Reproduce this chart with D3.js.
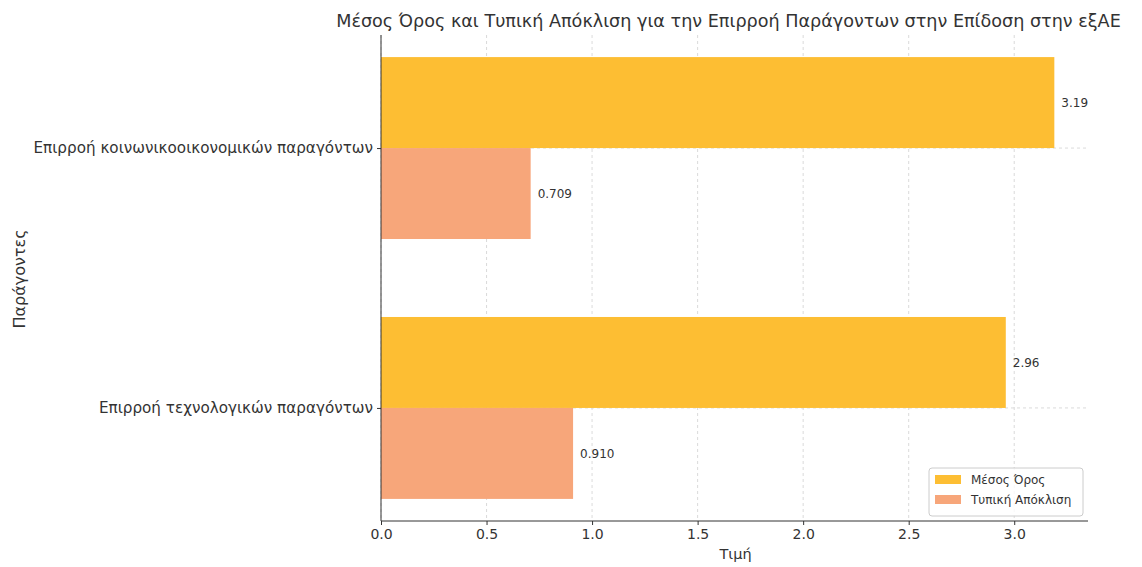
<!DOCTYPE html>
<html><head><meta charset="utf-8">
<script src="https://cdn.jsdelivr.net/npm/d3@7/dist/d3.min.js"></script>
<style>body{margin:0;background:#fff;} svg{display:block;} text{font-family:"DejaVu Sans",sans-serif;}</style>
</head><body><svg id="c" width="1142" height="567"></svg>
<script>
const categories = ["Επιρροή κοινωνικοοικονομικών παραγόντων", "Επιρροή τεχνολογικών παραγόντων"];
const meanValues = [3.19, 2.96];
const sdValues = [0.709, 0.910];
const meanLabels = ["3.19", "2.96"];
const sdLabels = ["0.709", "0.910"];
const seriesNames = ["Μέσος Όρος", "Τυπική Απόκλιση"];
const seriesColors = ["#fdbe33", "#f7a67a"];
const xTicks = [0, 0.5, 1.0, 1.5, 2.0, 2.5, 3.0];
const title = "Μέσος Όρος και Τυπική Απόκλιση για την Επιρροή Παράγοντων στην Επίδοση στην εξΑΕ";
const xLabel = "Τιμή";
const yLabel = "Παράγοντες";

const svg = d3.select("#c");
const L = 381, R = 1088, T = 35, B = 521;
const x = d3.scaleLinear().domain([0, d3.max(meanValues) * 1.05]).range([L, R]);
const y = d3.scaleLinear().domain([-0.35 - 0.085, 1 + 0.35 + 0.085]).range([T, B]);
const bh = 0.35;

// grid
const g = svg.append("g");
g.selectAll("line.vx").data(xTicks).join("line")
  .attr("x1", d => x(d)).attr("x2", d => x(d)).attr("y1", T).attr("y2", B)
  .attr("stroke", "#d0d0d0").attr("stroke-dasharray", "3,3").attr("stroke-width", 0.8);
g.selectAll("line.hy").data(categories).join("line")
  .attr("x1", L).attr("x2", R).attr("y1", (d, i) => y(i)).attr("y2", (d, i) => y(i))
  .attr("stroke", "#d0d0d0").attr("stroke-dasharray", "3,3").attr("stroke-width", 0.8);

// bars
const series = [meanValues, sdValues];
const labels = [meanLabels, sdLabels];
series.forEach((vals, s) => {
  svg.append("g").selectAll("rect").data(vals).join("rect")
    .attr("x", x(0))
    .attr("y", (d, i) => s === 0 ? y(i - bh) : y(i))
    .attr("width", d => x(d) - x(0))
    .attr("height", y(bh) - y(0))
    .attr("fill", seriesColors[s]);
  svg.append("g").selectAll("text").data(vals).join("text")
    .attr("x", d => x(d) + 7)
    .attr("y", (d, i) => s === 0 ? y(i - bh / 2) : y(i + bh / 2))
    .attr("dy", "0.35em")
    .attr("font-size", 12).attr("fill", "#333")
    .text((d, i) => labels[s][i]);
});

// axes
const xa = svg.append("g").attr("transform", `translate(0,${B})`)
  .call(d3.axisBottom(x).tickValues(xTicks).tickFormat(d3.format(".1f")).tickSize(4).tickPadding(4));
xa.select(".domain").attr("stroke", "#333").attr("d", `M${L},0H${R}`);
xa.selectAll(".tick line").attr("stroke", "#333");
xa.selectAll(".tick text").attr("font-size", 14).attr("fill", "#333").attr("font-family", "DejaVu Sans");

const ya = svg.append("g").attr("transform", `translate(${L},0)`)
  .call(d3.axisLeft(d3.scalePoint().domain(categories).range([y(0), y(1)])).tickSize(4).tickPadding(4));
ya.select(".domain").attr("stroke", "#333").attr("d", `M0,${T}V${B}`);
ya.selectAll(".tick line").attr("stroke", "#333");
ya.selectAll(".tick text").attr("font-size", 15.2).attr("fill", "#333").attr("font-family", "DejaVu Sans");

// titles
svg.append("text").attr("x", (L + R) / 2 - 6).attr("y", 27).attr("text-anchor", "middle")
  .attr("font-size", 17.6).attr("fill", "#333").text(title);
svg.append("text").attr("x", (L + R) / 2 + 1).attr("y", 559).attr("text-anchor", "middle")
  .attr("font-size", 14.5).attr("fill", "#333").text(xLabel);
svg.append("text").attr("transform", `translate(25,${(T + B) / 2 + 1}) rotate(-90)`).attr("text-anchor", "middle")
  .attr("font-size", 16).attr("fill", "#333").text(yLabel);

// legend
const lg = svg.append("g").attr("transform", "translate(929,468)");
lg.append("rect").attr("width", 154).attr("height", 48).attr("rx", 3)
  .attr("fill", "#fff").attr("fill-opacity", 0.8).attr("stroke", "#ccc");
seriesNames.forEach((n, i) => {
  lg.append("rect").attr("x", 6).attr("y", 7 + i * 20).attr("width", 26).attr("height", 9).attr("fill", seriesColors[i]);
  lg.append("text").attr("x", 42).attr("y", 12 + i * 20).attr("dy", "0.35em")
    .attr("font-size", 12).attr("fill", "#333").text(n);
});
</script></body></html>
